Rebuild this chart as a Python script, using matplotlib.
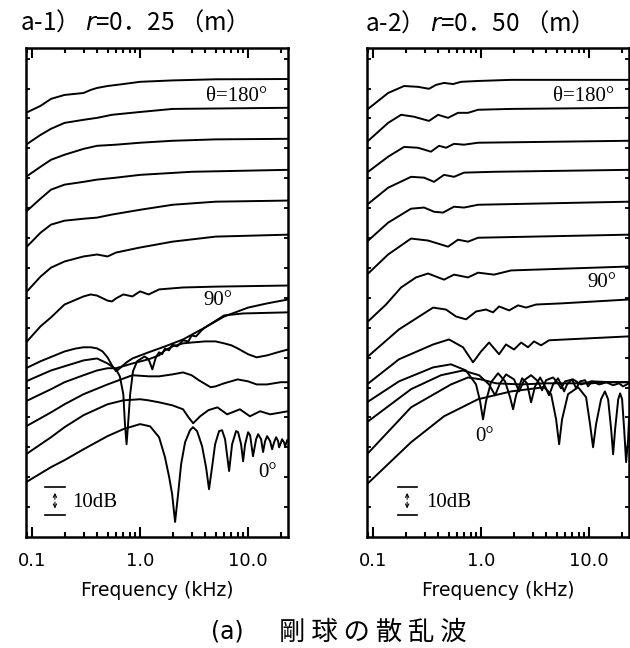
import numpy as np
import matplotlib
matplotlib.use("Agg")
import matplotlib.pyplot as plt
from matplotlib.ticker import NullFormatter

ANGLES = [180, 165, 150, 135, 120, 105, 90, 75, 60, 45, 30, 15, 0]

# a-1) r=0.25 m : frequency (kHz) / level (dB, curves stacked) for each angle
A1_FREQ = [
    [0.088, 0.12, 0.15, 0.2, 0.3, 0.35, 0.4, 0.5, 0.7, 1, 2, 5, 23.4],
    [0.088, 0.12, 0.15, 0.2, 0.3, 0.4, 0.55, 1, 2, 23.4],
    [0.088, 0.12, 0.15, 0.2, 0.3, 0.4, 0.6, 1, 2, 5, 23.4],
    [0.088, 0.12, 0.15, 0.2, 0.3, 0.4, 0.6, 1, 3, 23.4],
    [0.088, 0.12, 0.15, 0.2, 0.3, 0.4, 0.55, 1, 2, 5, 23.4],
    [0.088, 0.12, 0.15, 0.2, 0.3, 0.4, 0.5, 0.6, 1, 2, 5, 23.4],
    [0.088, 0.12, 0.15, 0.2, 0.3, 0.35, 0.4, 0.5, 0.55, 0.6, 0.7, 0.85, 1, 1.2, 1.5, 2.5, 5, 23.4],
    [0.088, 0.12, 0.2, 0.25, 0.3, 0.35, 0.4, 0.45, 0.5, 0.55, 0.6, 0.65, 0.75, 0.85, 1.2, 1.7, 2.5,
     4, 6, 9, 23.4],
    [0.088, 0.15, 0.3, 0.4, 0.5, 0.6, 0.65, 0.7, 0.725, 0.75, 0.775, 0.81, 0.86, 0.94, 1.1, 1.2,
     1.3, 1.4, 1.5, 1.6, 1.7, 1.85, 2, 2.2, 2.5, 2.8, 3, 3.3, 3.7, 4, 6, 10, 15, 23.4],
    [0.088, 0.15, 0.2, 0.3, 0.4, 0.5, 0.6, 0.85, 1.2, 1.5, 1.7, 2, 2.5, 3, 4, 5, 6, 7, 8, 10, 12,
     15, 20, 23.4],
    [0.088, 0.15, 0.2, 0.3, 0.5, 0.85, 1.2, 1.5, 2, 2.5, 3, 3.5, 4.5, 5, 6, 8, 10, 12, 15, 20, 23.4],
    [0.088, 0.15, 0.2, 0.3, 0.5, 0.7, 1, 1.2, 1.5, 2, 2.5, 2.8, 3.1, 3.6, 4.3, 5.2, 6.4, 8.4, 10.4,
     12.9, 16, 23.4],
    [0.088, 0.15, 0.2, 0.3, 0.5, 0.7, 1.0, 1.24, 1.5, 1.7, 1.86, 1.98, 2.11, 2.25, 2.4, 2.61, 2.9,
     3.09, 3.37, 3.75, 4.08, 4.35, 4.64, 4.95, 5.39, 5.74, 6.12, 6.67, 7.11, 7.74, 8.08, 8.61, 8.99,
     9.38, 10.0, 10.44, 11.1, 11.86, 12.38, 13.19, 13.76, 14.36, 14.99, 15.99, 16.68, 17.41, 18.16,
     18.95, 19.36, 20.2, 20.6, 21.5, 22.0, 23.0],
]
A1_LEVEL = [
    [151.8, 154.3, 156.8, 158.2, 158.9, 160.0, 160.7, 161.4, 162.1, 162.9, 163.4, 163.8, 163.9],
    [140.4, 143.9, 146.1, 148.2, 149.3, 150.0, 151.1, 152.1, 153.2, 153.6],
    [128.9, 132.5, 135.0, 136.8, 138.9, 140.0, 140.4, 141.1, 141.8, 142.3, 142.5],
    [116.4, 121.1, 124.3, 126.1, 127.1, 127.9, 128.6, 129.6, 130.7, 131.4],
    [103.6, 108.9, 111.8, 113.2, 113.9, 114.3, 115.4, 117.1, 118.9, 120.0, 120.4],
    [87.5, 93.2, 96.4, 98.6, 100.4, 101.1, 100.4, 101.8, 103.6, 105.7, 107.5, 108.2],
    [69.6, 75.4, 78.6, 83.2, 86.1, 86.8, 86.4, 84.6, 84.3, 85.4, 86.8, 86.1, 87.9, 86.8, 88.6, 89.3, 89.6, 90.0],
    [60.4, 62.9, 66.4, 67.4, 67.9, 67.9, 67.5, 66.4, 64.3, 61.4, 59.3, 60.4, 62.5, 63.9, 66.1, 68.2,
     70.7, 75.0, 79.3, 80.0, 80.4],
    [55.7, 59.6, 63.2, 63.9, 62.1, 60.0, 57.5, 51.1, 40.4, 33.2, 40.4, 51.1, 59.3, 62.9, 64.6, 63.6,
     60.0, 64.3, 66.1, 65.4, 67.5, 66.8, 68.9, 68.2, 70.4, 70.0, 72.1, 71.8, 73.9, 75.0, 78.9, 82.1, 83.6, 85.0],
    [48.6, 52.9, 55.4, 57.9, 59.6, 60.4, 60.4, 62.1, 63.6, 65.0, 66.8, 68.2, 69.3, 69.6, 70.0, 70.0,
     69.3, 68.6, 67.5, 65.4, 64.3, 65.0, 66.4, 67.1],
    [39.6, 44.6, 47.5, 51.1, 54.6, 57.9, 57.5, 57.5, 58.2, 58.9, 57.9, 56.1, 53.6, 53.9, 55.0, 56.4,
     55.7, 54.6, 54.6, 55.4, 55.4],
    [29.6, 35.7, 39.3, 43.6, 47.5, 48.9, 49.3, 48.9, 48.2, 47.1, 45.7, 42.9, 40.7, 43.2, 45.4, 46.4, 43.9,
     45.7, 43.2, 45.0, 43.9, 45.0],
    [19.6, 25.0, 27.5, 31.4, 36.1, 38.6, 40.4, 39.6, 35.7, 28.6, 21.4, 15.4, 5.4, 15.4, 26.1, 33.9, 38.2,
     39.3, 37.9, 32.5, 25.0, 17.1, 25.0, 33.2, 37.9, 38.2, 35.0, 23.6, 33.2, 37.9, 37.5, 33.2, 27.1,
     33.2, 37.5, 36.4, 28.9, 35.0, 36.8, 35.0, 30.4, 34.3, 36.1, 34.3, 31.4, 33.9, 35.7, 34.3, 32.1,
     33.9, 35.0, 33.9, 32.5, 34.6],
]

# a-2) r=0.50 m
A2_FREQ = [
    [0.088, 0.138, 0.194, 0.261, 0.33, 0.383, 0.454, 0.551, 0.653, 0.938, 1.9, 23.4],
    [0.088, 0.138, 0.182, 0.24, 0.33, 0.4, 0.495, 0.612, 0.758, 0.938, 1.9, 23.4],
    [0.088, 0.138, 0.194, 0.261, 0.344, 0.409, 0.474, 0.562, 0.696, 0.938, 23.4],
    [0.088, 0.138, 0.225, 0.297, 0.367, 0.454, 0.562, 0.696, 1.32, 23.4],
    [0.088, 0.138, 0.225, 0.297, 0.367, 0.445, 0.562, 0.696, 0.938, 23.4],
    [0.088, 0.138, 0.225, 0.323, 0.495, 0.612, 0.758, 0.938, 23.4],
    [0.088, 0.132, 0.182, 0.25, 0.323, 0.454, 0.562, 0.758, 0.938, 1.32, 1.9, 23.4],
    [0.088, 0.174, 0.36, 0.474, 0.587, 0.726, 0.899, 1.11, 1.29, 1.47, 1.82, 2.2, 2.61, 3.23, 5.5, 23.4],
    [0.088, 0.174, 0.36, 0.505, 0.681, 0.843, 1.0, 1.186, 1.47, 1.70, 2.02, 2.35, 2.72, 3.09, 3.59,
     4.26, 6.12, 23.4],
    [0.088, 0.174, 0.36, 0.527, 0.726, 0.899, 0.979, 1.043, 1.112, 1.238, 1.437, 1.668, 1.856, 1.979,
     2.109, 2.397, 2.665, 2.904, 3.16, 3.52, 3.91, 4.26, 4.64, 5.16, 5.62, 5.87, 6.25, 6.96, 7.58,
     8.25, 9.18, 9.79, 10.64, 12.38, 14.68, 23.4],
    [0.088, 0.225, 0.426, 0.681, 0.958, 1.186, 1.348, 1.499, 1.704, 2.02, 2.248, 2.5, 2.904, 3.37,
     3.67, 3.99, 4.64, 5.16, 5.5, 5.98, 7.11, 8.43, 10.44, 15.99, 23.4],
    [0.088, 0.225, 0.527, 0.758, 1.0, 1.377, 2.35, 3.99, 6.81, 10.44, 14.36, 16.68, 18.95, 20.6, 23.4],
    [0.088, 0.225, 0.454, 0.938, 1.896, 3.83, 4.45, 4.95, 5.28, 5.62, 6.38, 7.91, 9.38, 10.2, 10.88,
     11.6, 12.9, 14.0, 14.99, 15.99, 16.68, 17.41, 18.6, 19.36, 20.2, 21.1, 22.0, 22.96, 23.4],
]
A2_LEVEL = [
    [152.9, 158.9, 161.4, 161.1, 160.4, 161.8, 162.5, 162.1, 162.9, 163.2, 163.6, 163.6],
    [141.4, 148.2, 151.1, 150.4, 148.9, 151.1, 150.0, 151.8, 151.8, 152.9, 153.2, 153.6],
    [130.4, 136.1, 139.6, 139.3, 137.9, 140.0, 139.3, 140.7, 140.4, 141.1, 141.8],
    [118.9, 125.0, 128.9, 128.6, 127.1, 129.6, 128.9, 130.4, 130.7, 131.4],
    [105.7, 112.5, 117.5, 117.9, 116.4, 116.1, 118.2, 117.9, 118.9, 120.0],
    [93.9, 101.1, 106.8, 106.1, 103.9, 106.4, 105.7, 107.1, 108.2],
    [76.8, 83.2, 89.3, 92.9, 94.3, 92.1, 93.9, 92.9, 94.6, 93.9, 95.4, 96.8],
    [64.3, 74.3, 82.1, 81.4, 78.9, 77.9, 80.7, 81.4, 80.4, 82.5, 81.1, 82.9, 82.1, 83.2, 83.6, 85.0],
    [54.6, 63.6, 68.9, 70.7, 67.9, 62.5, 66.4, 69.6, 65.4, 68.9, 67.1, 69.6, 67.9, 70.0, 68.6, 70.4, 70.7, 71.8],
    [48.2, 55.7, 60.7, 61.8, 59.6, 54.6, 48.6, 42.1, 48.6, 55.4, 58.6, 55.7, 50.0, 45.7, 50.7, 56.8,
     55.0, 48.2, 53.9, 57.1, 53.9, 50.7, 54.6, 56.8, 53.9, 52.1, 54.6, 56.4, 53.2, 55.7, 56.1, 53.9,
     55.7, 54.6, 55.4, 55.4],
    [41.1, 52.9, 57.9, 59.6, 57.9, 54.6, 50.7, 55.0, 58.2, 56.4, 52.1, 56.1, 57.9, 55.7, 52.5, 56.1,
     57.1, 55.0, 53.2, 55.7, 56.4, 54.6, 55.7, 55.4, 55.4],
    [29.6, 46.4, 54.6, 57.1, 56.4, 55.0, 54.6, 55.0, 55.0, 55.0, 55.4, 54.3, 55.0, 53.9, 55.0],
    [18.9, 33.9, 43.2, 49.3, 52.1, 53.6, 51.1, 42.1, 33.2, 42.1, 51.1, 53.6, 50.0, 40.4, 32.1, 40.4,
     49.3, 52.1, 49.3, 38.6, 29.6, 38.6, 49.3, 51.4, 49.3, 38.6, 26.8, 35.0, 42.1],
]

TICKS = [0.1, 1, 10]
TICK_LABELS = ["0.1", "1.0", "10.0"]

fig = plt.figure(figsize=(6.3, 6.48), dpi=100)
ax1 = fig.add_axes([26 / 630, 111 / 648, 262 / 630, 489 / 648])
ax2 = fig.add_axes([367 / 630, 111 / 648, 262 / 630, 489 / 648])


def setup(ax):
    ax.set_xscale("log")
    ax.set_xlim(0.088, 23.4)
    ax.set_ylim(0, 175)
    ax.set_xticks(TICKS)
    ax.set_xticklabels(TICK_LABELS, fontsize=13, family="DejaVu Sans")
    ax.xaxis.set_minor_formatter(NullFormatter())
    ax.set_yticks(np.arange(10.7, 175, 10.7))
    ax.set_yticklabels([])
    ax.tick_params(axis="x", which="major", direction="in", top=True, bottom=True,
                   length=7, width=1.5, pad=11)
    ax.tick_params(axis="x", which="minor", direction="in", top=True, bottom=True,
                   length=3.5, width=1.5)
    ax.tick_params(axis="y", which="major", direction="in", left=True, right=True,
                   length=3, width=1.3)
    for s in ax.spines.values():
        s.set_linewidth(1.8)
    ax.text(0.5, -(591 - 537) / 489, "Frequency (kHz)", transform=ax.transAxes,
            ha="center", va="center", fontsize=13.5, family="DejaVu Sans")


def scale_bar(ax, f0, f1, fa, ft):
    ax.plot([f0, f1], [8, 8], color="black", lw=1.2)
    ax.plot([f0, f1], [18, 18], color="black", lw=1.2)
    ax.annotate("", xy=(fa, 16.8), xytext=(fa, 12.5),
                arrowprops=dict(arrowstyle="->", lw=0.8, mutation_scale=6, color="black"))
    ax.annotate("", xy=(fa, 9.2), xytext=(fa, 13.5),
                arrowprops=dict(arrowstyle="->", lw=0.8, mutation_scale=6, color="black"))
    ax.text(ft, 12.2, "10dB", ha="left", va="center", fontsize=15, family="Liberation Serif")


for ax, freqs, levels in [(ax1, A1_FREQ, A1_LEVEL), (ax2, A2_FREQ, A2_LEVEL)]:
    setup(ax)
    for f, lv in zip(freqs, levels):
        ax.plot(f, lv, color="black", lw=1.4, solid_joinstyle="round")

serif = ["Liberation Serif", "DejaVu Serif"]
ax1.text(7.9, 157.5, "θ=180°", ha="center", va="center", fontsize=15, family=serif)
ax1.text(5.27, 84.5, "90°", ha="center", va="center", fontsize=15, family=serif)
ax1.text(15.3, 23.2, "0°", ha="center", va="center", fontsize=15, family=serif)
ax2.text(8.9, 157.5, "θ=180°", ha="center", va="center", fontsize=15, family=serif)
ax2.text(13.2, 91.1, "90°", ha="center", va="center", fontsize=15, family=serif)
ax2.text(1.07, 36.1, "0°", ha="center", va="center", fontsize=15, family=serif)

scale_bar(ax1, 0.132, 0.202, 0.163, 0.235)
scale_bar(ax2, 0.17, 0.255, 0.207, 0.31)

cjk = ["Noto Sans CJK JP", "DejaVu Sans"]
fig.text(20 / 630, 1 - 22 / 648, "a-1） $r$=0．25 （m）", ha="left", va="center",
         fontsize=17.5, family=cjk)
fig.text(365 / 630, 1 - 23 / 648, "a-2） $r$=0．50 （m）", ha="left", va="center",
         fontsize=17.5, family=cjk)
fig.text(227 / 630, 1 - 632 / 648, "(a)", ha="center", va="center", fontsize=17, family="DejaVu Sans")
fig.text(373 / 630, 1 - 632 / 648, "剛 球 の 散 乱 波", ha="center", va="center", fontsize=19, family=cjk)

fig.savefig("out.png", dpi=100)
